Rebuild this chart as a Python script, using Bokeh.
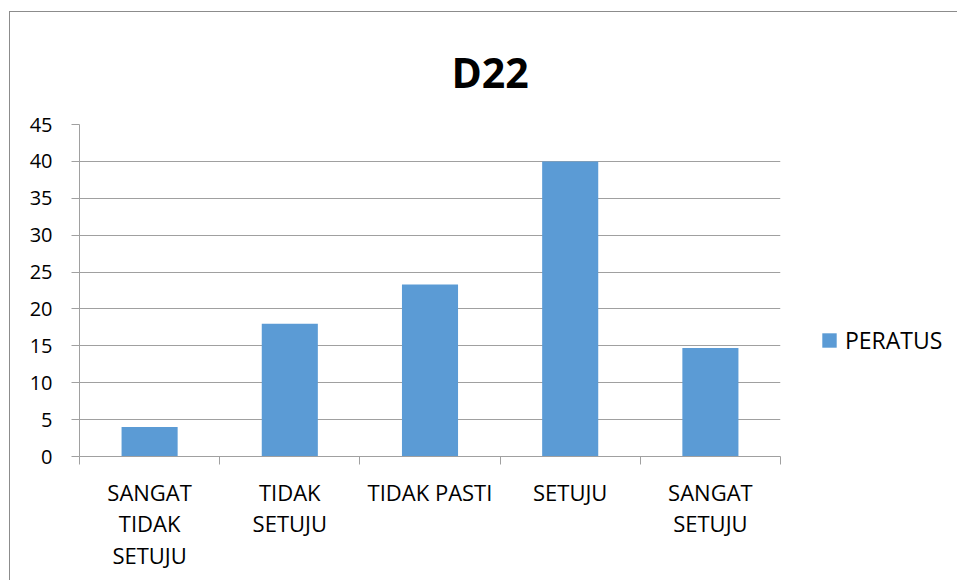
from bokeh.plotting import figure
from bokeh.models import Range1d, FixedTicker, Legend, LegendItem, ColumnDataSource
from bokeh.embed import file_html
from bokeh.resources import INLINE

# ---- data ----
title_text = "D22"
series_name = "PERATUS"
categories = ["SANGAT TIDAK SETUJU", "TIDAK SETUJU", "TIDAK PASTI", "SETUJU", "SANGAT SETUJU"]
tick_labels = ["SANGAT\nTIDAK\nSETUJU", "TIDAK\nSETUJU", "TIDAK PASTI", "SETUJU", "SANGAT\nSETUJU"]
peratus = [4.0, 18.0, 23.3, 40.0, 14.7]
y_ticks = [0, 5, 10, 15, 20, 25, 30, 35, 40, 45]

# ---- styles ----
BAR = "#5B9BD5"
GRID = "#A0A0A0"
FONT = "Open Sans"

n = len(categories)
centers = [i + 0.5 for i in range(n)]
bounds = list(range(n + 1))

src = ColumnDataSource(dict(x=centers, top=peratus, cat=categories))

p = figure(
    frame_width=701, frame_height=332,
    x_range=Range1d(0, n), y_range=Range1d(y_ticks[0], y_ticks[-1]),
    output_backend="svg", toolbar_location=None,
    min_border_left=69, min_border_right=170, min_border_top=112, min_border_bottom=124,
    title=title_text,
    styles={"border-top": "1px solid #8C8C8C", "border-left": "1px solid #8C8C8C",
            "margin-left": "9px", "margin-top": "11px"},
)
p.background_fill_color = "white"
p.border_fill_color = "white"
p.outline_line_color = None

p.title.text_font = FONT
p.title.text_font_size = "41px"
p.title.text_font_style = "bold"
p.title.text_color = "#000000"
p.title.align = "left"
p.title.vertical_align = "top"
p.title.offset = 372
p.title.standoff = 46

r = p.vbar(x="x", top="top", width=0.4, source=src, fill_color=BAR, line_color=None)

# y axis
ya = p.yaxis[0]
ya.ticker = FixedTicker(ticks=y_ticks)
ya.axis_line_color = GRID
ya.major_tick_line_color = GRID
ya.major_tick_out = 8
ya.major_tick_in = 0
ya.minor_tick_line_color = None
ya.major_label_text_font = FONT
ya.major_label_text_font_size = "20px"
ya.major_label_text_color = "#000000"
ya.major_label_standoff = 19

# x axis: labels at category centres, tick marks at category boundaries
xa = p.xaxis[0]
xa.ticker = FixedTicker(ticks=centers, minor_ticks=bounds)
xa.major_label_overrides = {c: t for c, t in zip(centers, tick_labels)}
xa.axis_line_color = GRID
xa.major_tick_line_color = None
xa.major_tick_out = 0
xa.major_tick_in = 0
xa.minor_tick_line_color = GRID
xa.minor_tick_out = 8
xa.minor_tick_in = 0
xa.major_label_text_font = FONT
xa.major_label_text_font_size = "22px"
xa.major_label_text_color = "#000000"
xa.major_label_text_line_height = 1.05
xa.major_label_standoff = 12

p.xgrid.visible = False
p.ygrid.ticker = FixedTicker(ticks=y_ticks)
p.ygrid.grid_line_color = GRID

legend = Legend(
    items=[LegendItem(label=series_name, renderers=[r])],
    location=(40, 100),
    glyph_width=18, glyph_height=18,
    label_text_font=FONT, label_text_font_size="23px", label_text_color="#000000",
    label_standoff=7, padding=0, margin=0, spacing=0,
    border_line_color=None, background_fill_alpha=0,
)
p.add_layout(legend, "right")

open("out.html", "w").write(file_html(p, INLINE))
